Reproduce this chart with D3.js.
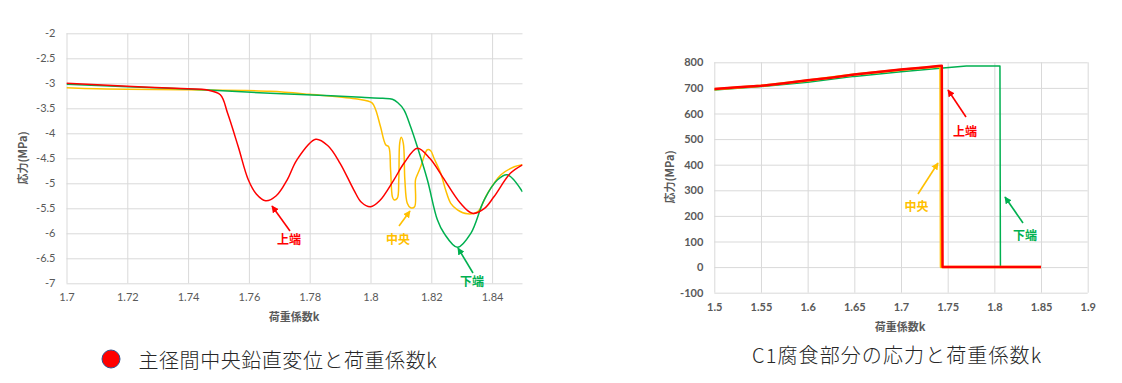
<!DOCTYPE html>
<html><head><meta charset="utf-8">
<script src="https://cdn.jsdelivr.net/npm/d3@7"></script>
<style>
html,body{margin:0;padding:0;background:#fff;}
svg{display:block;}
</style></head>
<body>
<svg id="c" width="1122" height="383"></svg>
<script>
// ---------- Left chart data (主径間中央鉛直変位と荷重係数k) ----------
const leftTitle = "主径間中央鉛直変位と荷重係数k";
const leftXTicks = [1.7,1.72,1.74,1.76,1.78,1.8,1.82,1.84];
const leftYTicks = [-2,-2.5,-3,-3.5,-4,-4.5,-5,-5.5,-6,-6.5,-7];
const leftTopX = [1.700,1.720,1.740,1.746,1.7506,1.753,1.7565,1.7598,1.7625,1.7655,1.769,1.7726,1.7758,1.782,1.786,1.790,1.7945,1.797,1.800,1.803,1.8077,1.811,1.8154,1.8195,1.8237,1.8296,1.8335,1.8375,1.8406,1.846,1.850];
const leftTopY = [-3.00,-3.06,-3.11,-3.13,-3.23,-3.6,-4.27,-4.93,-5.22,-5.35,-5.25,-4.93,-4.53,-4.12,-4.25,-4.6,-5.13,-5.38,-5.47,-5.35,-4.93,-4.6,-4.30,-4.5,-4.87,-5.40,-5.60,-5.5,-5.27,-4.8,-4.63];
const leftBotX = [1.700,1.720,1.745,1.767,1.787,1.797,1.804,1.8072,1.809,1.811,1.8132,1.8154,1.8187,1.822,1.8242,1.8286,1.833,1.8374,1.8418,1.845,1.850];
const leftBotY = [-3.02,-3.07,-3.13,-3.20,-3.25,-3.28,-3.30,-3.32,-3.39,-3.53,-3.87,-4.27,-4.93,-5.73,-6.0,-6.28,-6.0,-5.33,-4.93,-4.83,-5.17];
const leftMidX = [1.700,1.710,1.720,1.740,1.767,1.780,1.795,1.8005,1.8017,1.8033,1.805,1.806,1.8066,1.8072,1.8077,1.8088,1.8093,1.8096,1.8101,1.8108,1.8113,1.8121,1.8132,1.8145,1.8148,1.8154,1.8165,1.8176,1.8187,1.8198,1.8209,1.8231,1.8247,1.8264,1.8286,1.8319,1.8352,1.8385,1.8429,1.8473,1.850];
const leftMidY = [-3.09,-3.11,-3.12,-3.13,-3.16,-3.22,-3.31,-3.39,-3.53,-3.87,-4.23,-4.27,-4.73,-5.27,-5.33,-5.30,-4.93,-4.2,-4.08,-4.2,-4.93,-5.40,-5.49,-5.47,-4.93,-4.83,-4.67,-4.47,-4.33,-4.35,-4.5,-4.8,-5.13,-5.4,-5.53,-5.61,-5.57,-5.2,-4.83,-4.67,-4.63];

// ---------- Right chart data (C1腐食部分の応力と荷重係数k) ----------
const rightTitle = "C1腐食部分の応力と荷重係数k";
const rightXTicks = [1.5,1.55,1.6,1.65,1.7,1.75,1.8,1.85,1.9];
const rightYTicks = [-100,0,100,200,300,400,500,600,700,800];
const rightTopX = [1.5,1.525,1.55,1.575,1.6,1.625,1.65,1.675,1.7,1.725,1.74,1.7437,1.7445,1.85];
const rightTopY = [696,703,708,718,730,740,752,762,772,780,786,787,0,0];
const rightMidX = [1.5,1.55,1.6,1.65,1.7,1.74,1.7423,1.7428,1.85];
const rightMidY = [695,708,729,752,771,784,784,0,0];
const rightBotX = [1.5,1.55,1.6,1.65,1.7,1.745,1.77,1.806,1.8065,1.85];
const rightBotY = [692,705,722,745,763,778,786,786,0,0];

const seriesNames = ["上端","中央","下端"];
const colors = {"上端":"#FF0000","中央":"#FFC000","下端":"#00B050"};

const svg = d3.select("#c");
const numFont = "Lato, 'Liberation Sans', sans-serif";
const jpFont = "'Noto Sans CJK JP', sans-serif";
const grey = "#595959";
const gridC = "#d9d9d9";

const defs = svg.append("defs");
seriesNames.forEach((n,i)=>{
  defs.append("marker").attr("id","ah"+i).attr("viewBox","0 0 10 10")
    .attr("refX",9).attr("refY",5).attr("markerWidth",4.5).attr("markerHeight",4.5)
    .attr("orient","auto-start-reverse")
    .append("path").attr("d","M0,0 L10,5 L0,10 z").attr("fill",colors[n]);
});

function zip(xs,ys){return xs.map((x,i)=>({x:x,y:ys[i]}));}

function drawChart(cfg){
  const g = svg.append("g");
  const x = d3.scaleLinear().domain(cfg.xDomain).range(cfg.xRange);
  const y = d3.scaleLinear().domain(cfg.yDomain).range(cfg.yRange);
  // grid
  g.append("g").attr("transform",`translate(0,${cfg.yRange[0]})`)
    .call(d3.axisBottom(x).tickValues(cfg.xGrid).tickSize(-(cfg.yRange[0]-cfg.yRange[1])).tickFormat(""))
    .call(a=>a.select(".domain").remove())
    .call(a=>a.selectAll("line").attr("stroke",gridC).attr("stroke-width",1));
  g.append("g").attr("transform",`translate(${cfg.xRange[0]},0)`)
    .call(d3.axisLeft(y).tickValues(cfg.yTicks).tickSize(-(cfg.xRange[1]-cfg.xRange[0])).tickFormat(""))
    .call(a=>a.select(".domain").remove())
    .call(a=>a.selectAll("line").attr("stroke",gridC).attr("stroke-width",1));
  // tick labels via axes
  g.append("g").attr("transform",`translate(0,${cfg.yRange[0]})`)
    .call(d3.axisBottom(x).tickValues(cfg.xTicks).tickSize(0).tickPadding(cfg.xPad).tickFormat(d=>String(d)))
    .call(a=>a.select(".domain").remove())
    .call(a=>a.selectAll("text").attr("fill",grey).attr("font-family",numFont).attr("font-size",cfg.tickSize).attr("font-weight",cfg.tickWeight));
  g.append("g").attr("transform",`translate(${cfg.xRange[0]},0)`)
    .call(d3.axisLeft(y).tickValues(cfg.yTicks).tickSize(0).tickPadding(cfg.yPad).tickFormat(d=>String(d)))
    .call(a=>a.select(".domain").remove())
    .call(a=>a.selectAll("text").attr("fill",grey).attr("font-family",numFont).attr("font-size",cfg.tickSize).attr("font-weight",cfg.tickWeight));
  // axis titles
  g.append("text").attr("x",cfg.xTitlePos[0]).attr("y",cfg.xTitlePos[1]).attr("text-anchor","middle")
    .attr("font-family",jpFont).attr("font-size",11).attr("font-weight","bold").attr("fill",grey).text("荷重係数k");
  g.append("text").attr("transform",`translate(${cfg.yTitlePos[0]},${cfg.yTitlePos[1]}) rotate(-90)`).attr("text-anchor","middle")
    .attr("font-family",jpFont).attr("font-size",11).attr("font-weight","bold").attr("fill",grey).text("応力(MPa)");
  // clip
  const cid = "clip"+cfg.id;
  defs.append("clipPath").attr("id",cid).append("rect")
    .attr("x",cfg.xRange[0]).attr("y",cfg.yRange[1]-3).attr("width",cfg.xRange[1]-cfg.xRange[0]).attr("height",cfg.yRange[0]-cfg.yRange[1]+6);
  const line = d3.line().x(d=>x(d.x)).y(d=>y(d.y)).curve(cfg.curve);
  const lg = g.append("g").attr("clip-path",`url(#${cid})`);
  cfg.series.forEach(s=>{
    lg.append("path").datum(s.data).attr("d",line).attr("fill","none")
      .attr("stroke",colors[s.name]).attr("stroke-width",s.w).attr("stroke-linejoin","round");
  });
  // annotations
  cfg.notes.forEach(n=>{
    const i = seriesNames.indexOf(n.name);
    g.append("line").attr("x1",n.from[0]).attr("y1",n.from[1]).attr("x2",n.to[0]).attr("y2",n.to[1])
      .attr("stroke",colors[n.name]).attr("stroke-width",1.6).attr("marker-end",`url(#ah${i})`);
    g.append("text").attr("x",n.text[0]).attr("y",n.text[1]).attr("text-anchor","middle").attr("dominant-baseline","central")
      .attr("font-family",jpFont).attr("font-size",12).attr("font-weight","bold").attr("fill",colors[n.name]).text(n.name);
  });
}

drawChart({
  id:"L", xDomain:[1.7,1.85], xRange:[66.5,522.5], yDomain:[-7,-2], yRange:[283.3,33.3],
  xTicks:leftXTicks, xGrid:leftXTicks, yTicks:leftYTicks, xPad:10, yPad:11, tickSize:11, tickWeight:"normal",
  xTitlePos:[294,321], yTitlePos:[27,158], curve:d3.curveCatmullRom.alpha(0.5),
  series:[
    {name:"中央", data:zip(leftMidX,leftMidY), w:1.5},
    {name:"下端", data:zip(leftBotX,leftBotY), w:1.5},
    {name:"上端", data:zip(leftTopX,leftTopY), w:1.5}
  ],
  notes:[
    {name:"上端", from:[290,231], to:[272,206], text:[289,238]},
    {name:"中央", from:[399,226], to:[410,211], text:[398,238]},
    {name:"下端", from:[473,273], to:[458,248], text:[472,280]}
  ]
});

drawChart({
  id:"R", xDomain:[1.5,1.9], xRange:[714.3,1087.7], yDomain:[-100,800], yRange:[292.7,62.3],
  xTicks:rightXTicks, xGrid:rightXTicks, yTicks:rightYTicks, xPad:11, yPad:11, tickSize:11, tickWeight:"bold",
  xTitlePos:[900,331], yTitlePos:[674,177], curve:d3.curveLinear,
  series:[
    {name:"下端", data:zip(rightBotX,rightBotY), w:1.5},
    {name:"中央", data:zip(rightMidX,rightMidY), w:2.5},
    {name:"上端", data:zip(rightTopX,rightTopY), w:2.5}
  ],
  notes:[
    {name:"上端", from:[966,117], to:[948,90], text:[965,130]},
    {name:"中央", from:[918,194], to:[938,163], text:[916.5,205]},
    {name:"下端", from:[1023,223], to:[1005,197], text:[1025,234]}
  ]
});

// legend / caption texts
svg.append("circle").attr("cx",111).attr("cy",359).attr("r",9).attr("fill","#FF0000").attr("stroke","#2F528F").attr("stroke-width",1);
svg.append("text").attr("x",138.5).attr("y",359).attr("dominant-baseline","central")
  .attr("font-family",jpFont).attr("font-size",20).attr("font-weight",300).attr("fill","#262626")
  .attr("letter-spacing",0.55).text(leftTitle);
svg.append("text").attr("x",752).attr("y",354).attr("dominant-baseline","central")
  .attr("font-family",jpFont).attr("font-size",20).attr("font-weight",300).attr("fill","#262626")
  .attr("letter-spacing",1.1).text(rightTitle);
</script>
</body></html>
